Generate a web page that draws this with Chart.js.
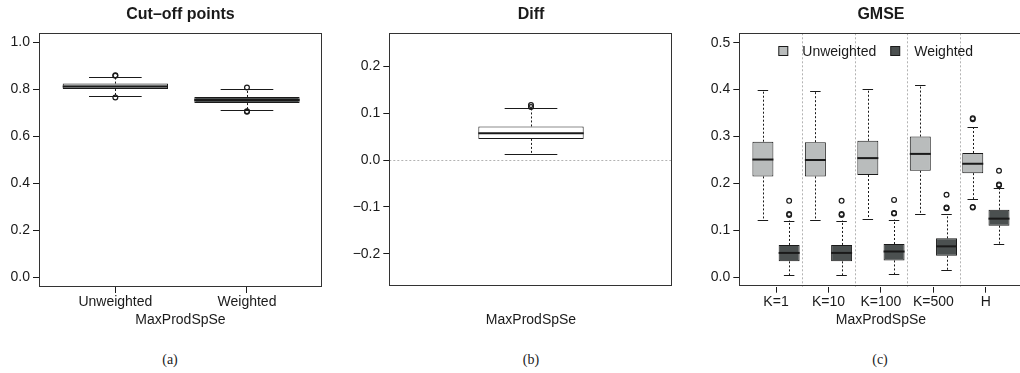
<!DOCTYPE html>
<html lang="en">
<head>
<meta charset="UTF-8">
<title>Cut-off points, Diff and GMSE</title>
<script src="https://cdn.jsdelivr.net/npm/chart.js"></script>
<style>
  html, body { margin: 0; padding: 0; background: #fff; overflow: hidden; }
  body { width: 1020px; height: 373px; position: relative; }
  canvas { position: absolute; top: 0; }
  .cap { position: absolute; top: 352px; width: 40px; text-align: center;
         font: 14px 'Liberation Serif', 'DejaVu Serif', serif; color: #222; }
</style>
</head>
<body>
<canvas id="cutChart" width="340" height="340" style="left:0"></canvas>
<canvas id="diffChart" width="340" height="340" style="left:340px"></canvas>
<canvas id="gmseChart" width="350" height="340" style="left:680px"></canvas>
<div class="cap" style="left:150px">(a)</div>
<div class="cap" style="left:511px">(b)</div>
<div class="cap" style="left:860px">(c)</div>
<script>
// ---- (a) Cut-off points ----
const cutCategories = ['Unweighted', 'Weighted'];
const cutLow = [0.772, 0.714];
const cutQ1 = [0.802, 0.742];
const cutMedian = [0.813, 0.755];
const cutQ3 = [0.825, 0.768];
const cutHigh = [0.853, 0.800];
const cutOutliers = [[0.860, 0.858, 0.766], [0.808, 0.707, 0.705]];
const cutTicks = [0, 0.2, 0.4, 0.6, 0.8, 1.0];

// ---- (b) Diff ----
const diffLow = [0.013];
const diffQ1 = [0.045];
const diffMedian = [0.057];
const diffQ3 = [0.0715];
const diffHigh = [0.1105];
const diffOutliers = [[0.117, 0.1128]];
const diffTicks = [-0.2, -0.1, 0, 0.1, 0.2];

// ---- (c) GMSE ----
const gmseGroups = ['K=1', 'K=10', 'K=100', 'K=500', 'H'];
const gmseSeries = ['Unweighted', 'Weighted'];
const unwLow = [0.122, 0.122, 0.124, 0.134, 0.166];
const unwQ1 = [0.215, 0.215, 0.218, 0.227, 0.222];
const unwMedian = [0.251, 0.250, 0.254, 0.263, 0.242];
const unwQ3 = [0.289, 0.288, 0.291, 0.300, 0.265];
const unwHigh = [0.399, 0.398, 0.401, 0.409, 0.320];
const unwOutliers = [[], [], [], [], [0.339, 0.337, 0.150, 0.149]];
const wLow = [0.004, 0.004, 0.007, 0.016, 0.071];
const wQ1 = [0.034, 0.034, 0.036, 0.046, 0.110];
const wMedian = [0.052, 0.052, 0.055, 0.066, 0.125];
const wQ3 = [0.069, 0.069, 0.071, 0.083, 0.144];
const wHigh = [0.121, 0.121, 0.123, 0.135, 0.190];
const wOutliers = [[0.163, 0.135, 0.133], [0.163, 0.135, 0.133], [0.165, 0.137, 0.136],
                   [0.176, 0.149, 0.147], [0.227, 0.198, 0.196]];
const gmseTicks = [0, 0.1, 0.2, 0.3, 0.4, 0.5];

const ink = '#1a1a1a';
const lightFill = '#b9bcbc';
const darkFill = '#4b5050';
Chart.defaults.font.family = "'Liberation Sans', Arial, sans-serif";
Chart.defaults.font.size = 14;
Chart.defaults.color = ink;

const fixedTicks = list => s => { s.ticks = list.map(v => ({ value: v })); };
const fmt = v => v.toFixed(1).replace('-', '\u2212');

function yAxis(min, max, ticks, width) {
  return {
    type: 'linear', min: min, max: max,
    afterBuildTicks: fixedTicks(ticks),
    afterFit: s => { s.width = width; },
    ticks: { callback: fmt, padding: 3 },
    grid: { drawOnChartArea: false, tickLength: 6, color: ink },
    border: { display: false }
  };
}

function xAxis(min, max, ticks, labelOf, height, show) {
  return {
    type: 'linear', min: min, max: max, offset: false,
    afterBuildTicks: fixedTicks(ticks),
    afterFit: s => { s.height = height; },
    ticks: { display: show, callback: labelOf, autoSkip: false, maxRotation: 0, padding: 1 },
    grid: { drawOnChartArea: false, drawTicks: show, tickLength: 6, color: ink, offset: false },
    border: { display: false },
    title: { display: true, text: 'MaxProdSpSe', padding: { top: 0, bottom: 11.6 } }
  };
}

function boxDataset(label, positions, q1, q3, fill) {
  return {
    type: 'bar', label: label,
    data: positions.map((p, i) => ({ x: p, y: [q1[i], q3[i]] })),
    backgroundColor: fill, borderColor: ink, borderWidth: 1, borderSkipped: false,
    grouped: false, barPercentage: 0.8, categoryPercentage: 1, order: 2
  };
}

function outlierDataset(positions, outliers) {
  const pts = [];
  positions.forEach((p, i) => outliers[i].forEach(v => pts.push({ x: p, y: v })));
  return {
    type: 'scatter', data: pts, showLine: false, order: 0,
    pointRadius: 2.4, pointBorderWidth: 1.2,
    pointBackgroundColor: 'rgba(0,0,0,0)', pointBorderColor: ink
  };
}

function boxStats(positions, lo, q1, med, q3, hi) {
  return positions.map((p, i) => ({ pos: p, lo: lo[i], q1: q1[i], med: med[i], q3: q3[i], hi: hi[i] }));
}

function seg(ctx, x1, y1, x2, y2) {
  ctx.beginPath(); ctx.moveTo(x1, y1); ctx.lineTo(x2, y2); ctx.stroke();
}

// whiskers, medians, reference lines, frame, title and legend
function extras(cfg) {
  return {
    id: 'extras',
    beforeDatasetsDraw(chart) {
      const { ctx, chartArea: a, scales: { x, y } } = chart;
      ctx.save();
      ctx.lineWidth = 1;
      ctx.setLineDash([2, 2]);
      ctx.strokeStyle = '#b3b3b3';
      (cfg.vLines || []).forEach(v => {
        const px = Math.round(x.getPixelForValue(v)) + 0.5;
        seg(ctx, px, a.top, px, a.bottom);
      });
      (cfg.hLines || []).forEach(v => {
        const py = Math.round(y.getPixelForValue(v)) + 0.5;
        seg(ctx, a.left, py, a.right, py);
      });
      ctx.strokeStyle = ink;
      cfg.boxes.forEach(b => {
        const px = Math.round(x.getPixelForValue(b.pos)) + 0.5;
        seg(ctx, px, y.getPixelForValue(b.q3), px, y.getPixelForValue(b.hi));
        seg(ctx, px, y.getPixelForValue(b.q1), px, y.getPixelForValue(b.lo));
      });
      ctx.setLineDash([]);
      cfg.boxes.forEach(b => {
        const l = x.getPixelForValue(b.pos - 0.2), r = x.getPixelForValue(b.pos + 0.2);
        [b.lo, b.hi].forEach(v => {
          const py = Math.round(y.getPixelForValue(v)) + 0.5;
          seg(ctx, l, py, r, py);
        });
      });
      ctx.restore();
    },
    afterDatasetsDraw(chart) {
      const { ctx, scales: { x, y } } = chart;
      ctx.save();
      ctx.strokeStyle = ink;
      ctx.lineWidth = 2;
      cfg.boxes.forEach(b => {
        const py = y.getPixelForValue(b.med);
        seg(ctx, x.getPixelForValue(b.pos - 0.4), py, x.getPixelForValue(b.pos + 0.4), py);
      });
      ctx.restore();
    },
    afterDraw(chart) {
      const { ctx, chartArea: a } = chart;
      ctx.save();
      ctx.strokeStyle = '#333';
      ctx.lineWidth = 1;
      ctx.strokeRect(Math.round(a.left) + 0.5, Math.round(a.top) + 0.5,
                     Math.round(a.width) - 1, Math.round(a.height) - 1);
      ctx.fillStyle = ink;
      ctx.font = "bold 16px 'Liberation Sans', Arial, sans-serif";
      ctx.textAlign = 'center';
      ctx.textBaseline = 'alphabetic';
      ctx.fillText(cfg.title, (a.left + a.right) / 2, 19);
      if (cfg.legend) {
        ctx.font = "14px 'Liberation Sans', Arial, sans-serif";
        ctx.textAlign = 'left';
        let lx = a.left + 39;
        cfg.legend.forEach(item => {
          ctx.fillStyle = item.fill;
          ctx.fillRect(lx + 0.5, 46.5, 9, 9);
          ctx.strokeStyle = ink;
          ctx.strokeRect(lx + 0.5, 46.5, 9, 9);
          ctx.fillStyle = ink;
          ctx.fillText(item.label, lx + 24, 55.5);
          lx += 24 + ctx.measureText(item.label).width + 14;
        });
      }
      ctx.restore();
    }
  };
}

function baseOptions(pad, scales) {
  return {
    responsive: false, animation: false, events: [],
    layout: { padding: pad },
    plugins: { legend: { display: false }, tooltip: { enabled: false }, title: { display: false } },
    scales: scales
  };
}

// ---- chart (a) ----
const cutPos = cutCategories.map((c, i) => i + 1);
new Chart(document.getElementById('cutChart'), {
  type: 'bar',
  data: {
    datasets: [
      outlierDataset(cutPos, cutOutliers),
      boxDataset('Cut-off points', cutPos, cutQ1, cutQ3, [lightFill, darkFill])
    ]
  },
  options: baseOptions({ left: 0, top: 33, right: 18, bottom: 0 }, {
    x: xAxis(0.42, 2.57, cutPos, v => cutCategories[v - 1], 53, true),
    y: yAxis(-0.04, 1.04, cutTicks, 39)
  }),
  plugins: [extras({ title: 'Cut\u2013off points', boxes: boxStats(cutPos, cutLow, cutQ1, cutMedian, cutQ3, cutHigh) })]
});

// ---- chart (b) ----
const diffPos = [1];
new Chart(document.getElementById('diffChart'), {
  type: 'bar',
  data: {
    datasets: [
      outlierDataset(diffPos, diffOutliers),
      boxDataset('Diff', diffPos, diffQ1, diffQ3, '#ffffff')
    ]
  },
  options: baseOptions({ left: 0, top: 33.3, right: 7.3, bottom: 0 }, {
    x: xAxis(-0.076, 2.076, [0, 1, 2], () => '', 53.3, false),
    y: yAxis(-0.27, 0.27, diffTicks, 49.3)
  }),
  plugins: [extras({ title: 'Diff', hLines: [0], boxes: boxStats(diffPos, diffLow, diffQ1, diffMedian, diffQ3, diffHigh) })]
});

// ---- chart (c) ----
const unwPos = gmseGroups.map((g, i) => 2 * i + 1);
const wPos = gmseGroups.map((g, i) => 2 * i + 2);
const groupCentres = gmseGroups.map((g, i) => 2 * i + 1.5);
const separators = gmseGroups.slice(1).map((g, i) => 2 * i + 2.5);
new Chart(document.getElementById('gmseChart'), {
  type: 'bar',
  data: {
    datasets: [
      outlierDataset(unwPos, unwOutliers),
      outlierDataset(wPos, wOutliers),
      boxDataset(gmseSeries[0], unwPos, unwQ1, unwQ3, lightFill),
      boxDataset(gmseSeries[1], wPos, wQ1, wQ3, darkFill)
    ]
  },
  options: baseOptions({ left: 0, top: 33.3, right: 7.4, bottom: 0 }, {
    x: xAxis(0.1, 10.9, groupCentres, v => gmseGroups[(v - 1.5) / 2], 53.3, true),
    y: yAxis(-0.02, 0.52, gmseTicks, 59.3)
  }),
  plugins: [extras({
    title: 'GMSE', vLines: separators,
    boxes: boxStats(unwPos, unwLow, unwQ1, unwMedian, unwQ3, unwHigh)
      .concat(boxStats(wPos, wLow, wQ1, wMedian, wQ3, wHigh)),
    legend: [{ label: gmseSeries[0], fill: lightFill }, { label: gmseSeries[1], fill: darkFill }]
  })]
});
</script>
</body>
</html>
